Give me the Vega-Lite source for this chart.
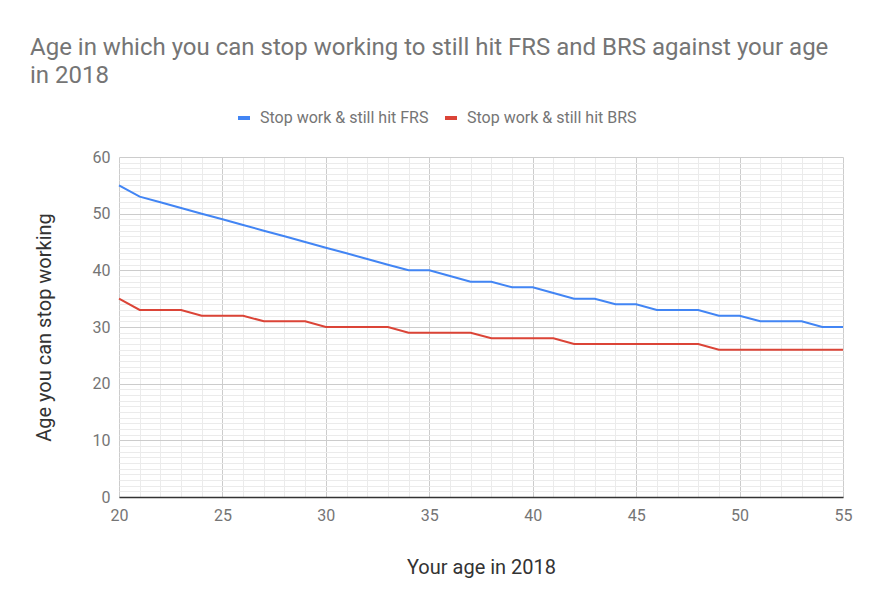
{
  "$schema": "https://vega.github.io/schema/vega-lite/v6.json",
  "description": "Age at which you can stop working and still hit FRS / BRS, by age in 2018",
  "width": 724,
  "height": 340,
  "autosize": "none",
  "padding": {"left": 119, "top": 157, "right": 31, "bottom": 112},
  "background": "#ffffff",
  "config": {
    "font": "Roboto",
    "view": {"stroke": null},
    "axis": {
      "labelFont": "Roboto",
      "labelFontSize": 16,
      "labelColor": "#757575",
      "labelFlush": false,
      "titleFont": "Roboto",
      "titleFontSize": 20,
      "titleFontWeight": "normal",
      "titleColor": "#333333",
      "ticks": false
    }
  },
  "title": {
    "text": ["Age in which you can stop working to still hit FRS and BRS against your age", "in 2018"],
    "anchor": "start",
    "frame": "group",
    "dx": -89,
    "offset": 22,
    "fontSize": 24,
    "fontWeight": "normal",
    "color": "#757575",
    "lineHeight": 28
  },
  "data": {
    "values": [
      {"age": 20, "series": "Stop work & still hit FRS", "value": 55},
      {"age": 21, "series": "Stop work & still hit FRS", "value": 53},
      {"age": 22, "series": "Stop work & still hit FRS", "value": 52},
      {"age": 23, "series": "Stop work & still hit FRS", "value": 51},
      {"age": 24, "series": "Stop work & still hit FRS", "value": 50},
      {"age": 25, "series": "Stop work & still hit FRS", "value": 49},
      {"age": 26, "series": "Stop work & still hit FRS", "value": 48},
      {"age": 27, "series": "Stop work & still hit FRS", "value": 47},
      {"age": 28, "series": "Stop work & still hit FRS", "value": 46},
      {"age": 29, "series": "Stop work & still hit FRS", "value": 45},
      {"age": 30, "series": "Stop work & still hit FRS", "value": 44},
      {"age": 31, "series": "Stop work & still hit FRS", "value": 43},
      {"age": 32, "series": "Stop work & still hit FRS", "value": 42},
      {"age": 33, "series": "Stop work & still hit FRS", "value": 41},
      {"age": 34, "series": "Stop work & still hit FRS", "value": 40},
      {"age": 35, "series": "Stop work & still hit FRS", "value": 40},
      {"age": 36, "series": "Stop work & still hit FRS", "value": 39},
      {"age": 37, "series": "Stop work & still hit FRS", "value": 38},
      {"age": 38, "series": "Stop work & still hit FRS", "value": 38},
      {"age": 39, "series": "Stop work & still hit FRS", "value": 37},
      {"age": 40, "series": "Stop work & still hit FRS", "value": 37},
      {"age": 41, "series": "Stop work & still hit FRS", "value": 36},
      {"age": 42, "series": "Stop work & still hit FRS", "value": 35},
      {"age": 43, "series": "Stop work & still hit FRS", "value": 35},
      {"age": 44, "series": "Stop work & still hit FRS", "value": 34},
      {"age": 45, "series": "Stop work & still hit FRS", "value": 34},
      {"age": 46, "series": "Stop work & still hit FRS", "value": 33},
      {"age": 47, "series": "Stop work & still hit FRS", "value": 33},
      {"age": 48, "series": "Stop work & still hit FRS", "value": 33},
      {"age": 49, "series": "Stop work & still hit FRS", "value": 32},
      {"age": 50, "series": "Stop work & still hit FRS", "value": 32},
      {"age": 51, "series": "Stop work & still hit FRS", "value": 31},
      {"age": 52, "series": "Stop work & still hit FRS", "value": 31},
      {"age": 53, "series": "Stop work & still hit FRS", "value": 31},
      {"age": 54, "series": "Stop work & still hit FRS", "value": 30},
      {"age": 55, "series": "Stop work & still hit FRS", "value": 30},
      {"age": 20, "series": "Stop work & still hit BRS", "value": 35},
      {"age": 21, "series": "Stop work & still hit BRS", "value": 33},
      {"age": 22, "series": "Stop work & still hit BRS", "value": 33},
      {"age": 23, "series": "Stop work & still hit BRS", "value": 33},
      {"age": 24, "series": "Stop work & still hit BRS", "value": 32},
      {"age": 25, "series": "Stop work & still hit BRS", "value": 32},
      {"age": 26, "series": "Stop work & still hit BRS", "value": 32},
      {"age": 27, "series": "Stop work & still hit BRS", "value": 31},
      {"age": 28, "series": "Stop work & still hit BRS", "value": 31},
      {"age": 29, "series": "Stop work & still hit BRS", "value": 31},
      {"age": 30, "series": "Stop work & still hit BRS", "value": 30},
      {"age": 31, "series": "Stop work & still hit BRS", "value": 30},
      {"age": 32, "series": "Stop work & still hit BRS", "value": 30},
      {"age": 33, "series": "Stop work & still hit BRS", "value": 30},
      {"age": 34, "series": "Stop work & still hit BRS", "value": 29},
      {"age": 35, "series": "Stop work & still hit BRS", "value": 29},
      {"age": 36, "series": "Stop work & still hit BRS", "value": 29},
      {"age": 37, "series": "Stop work & still hit BRS", "value": 29},
      {"age": 38, "series": "Stop work & still hit BRS", "value": 28},
      {"age": 39, "series": "Stop work & still hit BRS", "value": 28},
      {"age": 40, "series": "Stop work & still hit BRS", "value": 28},
      {"age": 41, "series": "Stop work & still hit BRS", "value": 28},
      {"age": 42, "series": "Stop work & still hit BRS", "value": 27},
      {"age": 43, "series": "Stop work & still hit BRS", "value": 27},
      {"age": 44, "series": "Stop work & still hit BRS", "value": 27},
      {"age": 45, "series": "Stop work & still hit BRS", "value": 27},
      {"age": 46, "series": "Stop work & still hit BRS", "value": 27},
      {"age": 47, "series": "Stop work & still hit BRS", "value": 27},
      {"age": 48, "series": "Stop work & still hit BRS", "value": 27},
      {"age": 49, "series": "Stop work & still hit BRS", "value": 26},
      {"age": 50, "series": "Stop work & still hit BRS", "value": 26},
      {"age": 51, "series": "Stop work & still hit BRS", "value": 26},
      {"age": 52, "series": "Stop work & still hit BRS", "value": 26},
      {"age": 53, "series": "Stop work & still hit BRS", "value": 26},
      {"age": 54, "series": "Stop work & still hit BRS", "value": 26},
      {"age": 55, "series": "Stop work & still hit BRS", "value": 26}
    ]
  },
  "layer": [
    {
      "mark": {"type": "line", "strokeOpacity": 0},
      "encoding": {
        "x": {
          "field": "age",
          "type": "quantitative",
          "scale": {"domain": [20, 55], "nice": false, "zero": false},
          "axis": {
            "orient": "bottom",
            "values": [20, 21, 22, 23, 24, 25, 26, 27, 28, 29, 30, 31, 32, 33, 34, 35, 36, 37, 38, 39, 40, 41, 42, 43, 44, 45, 46, 47, 48, 49, 50, 51, 52, 53, 54, 55],
            "grid": true,
            "gridColor": "#ebebeb",
            "labels": false,
            "domain": false,
            "title": null
          }
        },
        "y": {
          "field": "value",
          "type": "quantitative",
          "scale": {"domain": [0, 60], "nice": false},
          "axis": {
            "orient": "left",
            "values": [0, 1, 2, 3, 4, 5, 6, 7, 8, 9, 10, 11, 12, 13, 14, 15, 16, 17, 18, 19, 20, 21, 22, 23, 24, 25, 26, 27, 28, 29, 30, 31, 32, 33, 34, 35, 36, 37, 38, 39, 40, 41, 42, 43, 44, 45, 46, 47, 48, 49, 50, 51, 52, 53, 54, 55, 56, 57, 58, 59, 60],
            "grid": true,
            "gridColor": "#ebebeb",
            "labels": false,
            "domain": false,
            "title": null
          }
        },
        "detail": {"field": "series"}
      }
    },
    {
      "mark": {"type": "line", "strokeWidth": 2},
      "encoding": {
        "x": {
          "field": "age",
          "type": "quantitative",
          "scale": {"domain": [20, 55], "nice": false, "zero": false},
          "axis": {
            "orient": "bottom",
            "values": [20, 25, 30, 35, 40, 45, 50, 55],
            "grid": true,
            "gridColor": "#cccccc",
            "domain": true,
            "domainColor": "#333333",
            "domainWidth": 1.5,
            "labelPadding": 10,
            "title": "Your age in 2018",
            "titlePadding": 34
          }
        },
        "y": {
          "field": "value",
          "type": "quantitative",
          "scale": {"domain": [0, 60], "nice": false},
          "axis": {
            "orient": "left",
            "values": [0, 10, 20, 30, 40, 50, 60],
            "grid": true,
            "gridColor": "#cccccc",
            "domain": false,
            "labelPadding": 9,
            "title": "Age you can stop working",
            "titlePadding": 38
          }
        },
        "color": {
          "field": "series",
          "type": "nominal",
          "scale": {
            "domain": ["Stop work & still hit FRS", "Stop work & still hit BRS"],
            "range": ["#4285f4", "#db4437"]
          },
          "legend": {
            "title": null,
            "orient": "none",
            "direction": "horizontal",
            "legendX": 117,
            "legendY": -47,
            "symbolType": "stroke",
            "symbolStrokeWidth": 4,
            "symbolSize": 144,
            "labelFontSize": 16,
            "labelColor": "#757575",
            "labelLimit": 400,
            "labelOffset": 8,
            "columnPadding": 8
          }
        }
      }
    }
  ],
  "resolve": {"axis": {"x": "independent", "y": "independent"}}
}
